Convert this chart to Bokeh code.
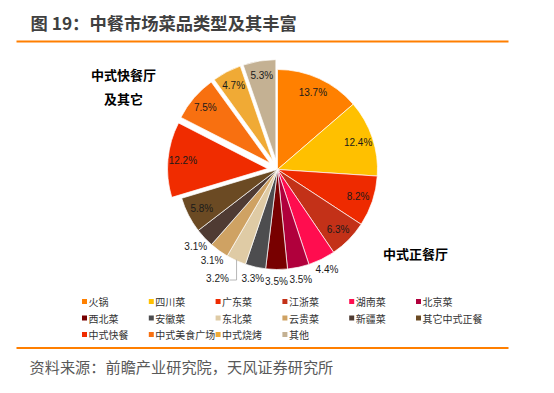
import math
from bokeh.plotting import figure
from bokeh.models import Range1d, ColumnDataSource
from bokeh.core.properties import value
from bokeh.embed import file_html
from bokeh.resources import INLINE

# ---------------- data ----------------
categories = ["火锅", "四川菜", "广东菜", "江浙菜", "湖南菜", "北京菜",
              "西北菜", "安徽菜", "东北菜", "云贵菜", "新疆菜", "其它中式正餐",
              "中式快餐", "中式美食广场", "中式烧烤", "其他"]
shares = [13.7, 12.4, 8.2, 6.3, 4.4, 3.5, 3.5, 3.3, 3.2, 3.1, 3.1, 5.8,
          12.2, 7.5, 4.7, 5.3]
labels = ["13.7%", "12.4%", "8.2%", "6.3%", "4.4%", "3.5%", "3.5%", "3.3%",
          "3.2%", "3.1%", "3.1%", "5.8%", "12.2%", "7.5%", "4.7%", "5.3%"]
exploded = [False] * 12 + [True] * 4

colors = ["#FF8000", "#FFC000", "#EE2A00", "#C33118", "#FF0D4F", "#B0003C",
          "#780000", "#4D4D4F", "#DFCBA5", "#CFA263", "#4F3B33", "#6B4A23",
          "#F02C00", "#F87010", "#F0AA35", "#C4B193"]

title = "图 19：中餐市场菜品类型及其丰富"
source_text = "资料来源：前瞻产业研究院，天风证券研究所"
group_a = ["中式快餐厅", "及其它"]
group_b = "中式正餐厅"

# ---------------- layout helpers (screen px -> data) ----------------
W, H = 538, 377
def Y(sy):
    return 393 - sy

CJK = value("Noto Sans CJK SC")
LAT = value("Liberation Sans")

p = figure(width=W, height=H, x_range=Range1d(0, W), y_range=Range1d(393 - H, 393),
           output_backend="svg", toolbar_location=None,
           x_axis_location=None, y_axis_location=None, min_border=0)
p.grid.visible = False
p.outline_line_color = None
p.background_fill_color = "white"
p.border_fill_color = "white"

# decorative rules
p.segment(x0=[16, 16], y0=[Y(41), Y(347.5)], x1=[508, 508], y1=[Y(41), Y(347.5)],
          line_color="#FF7F00", line_width=2.2)

# title & source
p.text(x=[30], y=[Y(22)], text=[title], text_font=CJK, text_font_style="bold",
       text_font_size="17.3px", text_color="#404040", text_baseline="middle")
p.text(x=[29], y=[Y(365)], text=[source_text], text_font=CJK,
       text_font_size="15.2px", text_color="#595959", text_baseline="middle")

# ---------------- pie ----------------
cx, cy = 277, Y(169)
R = 100
OFF = 10
total = sum(shares)

starts, ends, xs, ys, mids = [], [], [], [], []
acc = 0.0
for v, ex in zip(shares, exploded):
    t0 = acc / total * 2 * math.pi
    acc += v
    t1 = acc / total * 2 * math.pi
    tm = (t0 + t1) / 2
    mids.append(tm)
    starts.append(math.pi / 2 - t0)
    ends.append(math.pi / 2 - t1)
    o = OFF if ex else 0
    xs.append(cx + o * math.sin(tm))
    ys.append(cy + o * math.cos(tm))

src = ColumnDataSource(dict(x=xs, y=ys, s=starts, e=ends, c=colors))
p.wedge(x="x", y="y", radius=R, start_angle="s", end_angle="e",
        direction="clock", fill_color="c", line_color="white", line_width=0.7,
        source=src)

# percentage labels
lx, ly = [], []
for i, (v, ex, tm) in enumerate(zip(shares, exploded, mids)):
    o = OFF if ex else 0
    inside = ex or v >= 5
    r = (0.85 * R + o) if inside else 1.12 * R
    if categories[i] == "东北菜":
        r = 1.24 * R
        tm = tm + math.radians(4.5)
    lx.append(cx + r * math.sin(tm))
    ly.append(cy + r * math.cos(tm))
p.text(x=lx, y=ly, text=labels, text_font=LAT, text_font_size="10px",
       text_color="#1a1a1a", text_align="center", text_baseline="middle")

# leader line for the displaced label
i_db = categories.index("东北菜")
tm = mids[i_db]
ax, ay = cx + 0.99 * R * math.sin(tm), cy + 0.99 * R * math.cos(tm)
p.line(x=[ax, ax, lx[i_db] + 12], y=[ay, ly[i_db] - 2, ly[i_db] - 2],
       line_color="#A6A6A6", line_width=0.8)

# group annotations
p.text(x=[123, 123], y=[Y(74), Y(98)], text=group_a, text_font=CJK,
       text_font_style="bold", text_font_size="13px", text_color="#000000",
       text_align="center", text_baseline="middle")
p.text(x=[415], y=[Y(253)], text=[group_b], text_font=CJK,
       text_font_style="bold", text_font_size="13px", text_color="#000000",
       text_align="center", text_baseline="middle")

# ---------------- legend ----------------
lgx0, lgy0, dx, dy = 81.5, 301, 66.8, 16.5
sqx, sqy, tx, ty = [], [], [], []
for i in range(len(categories)):
    col, row = i % 6, i // 6
    sqx.append(lgx0 + col * dx + 2.5)
    sqy.append(Y(lgy0 + row * dy))
    tx.append(lgx0 + col * dx + 6.5)
    ty.append(Y(lgy0 + row * dy))
p.rect(x=sqx, y=sqy, width=5, height=5, fill_color=colors, line_color=None)
p.text(x=tx, y=ty, text=categories, text_font=CJK, text_font_size="10px",
       text_color="#333333", text_baseline="middle")

open("out.html", "w").write(file_html(p, INLINE))
